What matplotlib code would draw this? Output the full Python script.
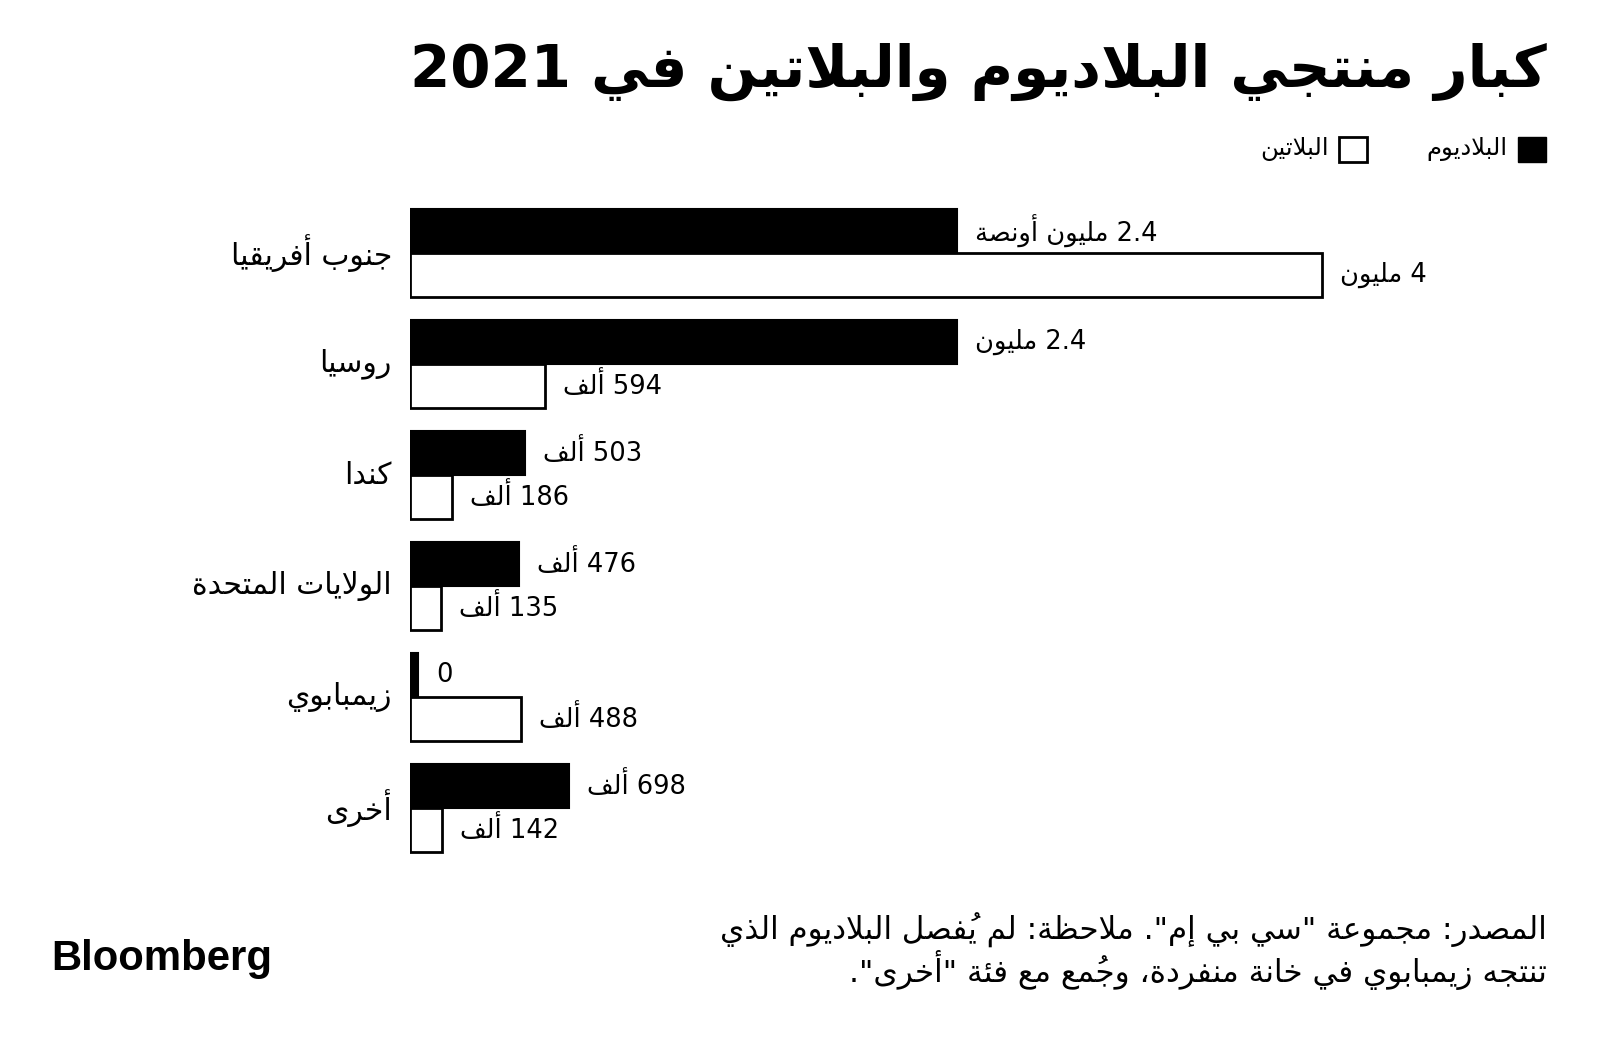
import numpy as np
import matplotlib.pyplot as plt
from matplotlib.patches import Rectangle

# data (thousand ounces, 2021)
countries = ["جنوب أفريقيا", "روسيا", "كندا", "الولايات المتحدة", "زيمبابوي", "أخرى"]
palladium = [2400, 2400, 503, 476, 0, 698]
platinum = [4000, 594, 186, 135, 488, 142]
palladium_labels = ["2.4 مليون أونصة", "2.4 مليون", "503 ألف", "476 ألف", "0", "698 ألف"]
platinum_labels = ["4 مليون", "594 ألف", "186 ألف", "135 ألف", "488 ألف", "142 ألف"]
series_names = ["البلاديوم", "البلاتين"]

title = "كبار منتجي البلاديوم والبلاتين في 2021"
note_lines = ['المصدر: مجموعة "سي بي إم". ملاحظة: لم يُفصل البلاديوم الذي',
              'تنتجه زيمبابوي في خانة منفردة، وجُمع مع فئة "أخرى".']

# --- minimal Arabic shaping + right-to-left ordering (matplotlib does neither) ---
DUAL = {0x0626: 0xFE89, 0x0628: 0xFE8F, 0x062A: 0xFE95, 0x062B: 0xFE99, 0x062C: 0xFE9D,
        0x062D: 0xFEA1, 0x062E: 0xFEA5, 0x0633: 0xFEB1, 0x0634: 0xFEB5, 0x0635: 0xFEB9,
        0x0636: 0xFEBD, 0x0637: 0xFEC1, 0x0638: 0xFEC5, 0x0639: 0xFEC9, 0x063A: 0xFECD,
        0x0641: 0xFED1, 0x0642: 0xFED5, 0x0643: 0xFED9, 0x0644: 0xFEDD, 0x0645: 0xFEE1,
        0x0646: 0xFEE5, 0x0647: 0xFEE9, 0x064A: 0xFEF1}
RIGHT = {0x0622: 0xFE81, 0x0623: 0xFE83, 0x0624: 0xFE85, 0x0625: 0xFE87, 0x0627: 0xFE8D,
         0x0629: 0xFE93, 0x062F: 0xFEA9, 0x0630: 0xFEAB, 0x0631: 0xFEAD, 0x0632: 0xFEAF,
         0x0648: 0xFEED, 0x0649: 0xFEEF}
LAMALEF = {0x0622: 0xFEF5, 0x0623: 0xFEF7, 0x0625: 0xFEF9, 0x0627: 0xFEFB}


def is_mark(ch):
    return 0x064B <= ord(ch) <= 0x0652


def shape_word(word):
    clusters = []
    for ch in word:
        if is_mark(ch) and clusters:
            clusters[-1][1] += ch
        else:
            clusters.append([ord(ch), ""])
    merged = []
    i = 0
    while i < len(clusters):
        b, m = clusters[i]
        if b == 0x0644 and i + 1 < len(clusters) and clusters[i + 1][0] in LAMALEF:
            merged.append([("LA", LAMALEF[clusters[i + 1][0]]), m + clusters[i + 1][1]])
            i += 2
        else:
            merged.append([b, m])
            i += 1

    def jtype(b):
        if isinstance(b, tuple) or b in RIGHT:
            return "R"
        if b in DUAL:
            return "D"
        return "U"

    types = [jtype(c[0]) for c in merged]
    out = []
    for i, (b, m) in enumerate(merged):
        t = types[i]
        prev = i > 0 and types[i - 1] == "D" and t in "DR"
        nxt = t == "D" and i + 1 < len(merged) and types[i + 1] in "DR"
        if isinstance(b, tuple):
            g = chr(b[1] + (1 if prev else 0))
        elif t == "D":
            g = chr(DUAL[b] + (3 if prev and nxt else 1 if prev else 2 if nxt else 0))
        elif t == "R":
            g = chr(RIGHT[b] + (1 if prev else 0))
        else:
            g = chr(b)
        out.append(m + g)  # mark first: it is drawn rightwards over its letter
    return "".join(reversed(out))


def ar(text):
    words = text.split(" ")
    vis = [shape_word(w) if any(0x0600 <= ord(c) <= 0x06FF for c in w) else w for w in words]
    return " ".join(reversed(vis))


# --- figure ---
W, H = 1600, 1037
fig = plt.figure(figsize=(W / 100, H / 100), dpi=100)
plt.rcParams['font.family'] = ['DejaVu Sans']

ax = fig.add_axes([410 / W, 1 - 863.5 / H, 1140 / W, 666 / H])
y = np.arange(len(countries))
h = 0.395
pall_shown = np.maximum(palladium, 35)  # keep a visible stub for zero
ax.barh(y - h / 2, pall_shown, height=h, color="black", edgecolor="black", linewidth=1.5)
ax.barh(y + h / 2, platinum, height=h, color="white", edgecolor="black", linewidth=2)

for i in range(len(countries)):
    ax.annotate(ar(palladium_labels[i]), xy=(pall_shown[i], y[i] - h / 2), xytext=(13, 0),
                textcoords="offset points", ha="left", va="center", fontsize=18.5)
    ax.annotate(ar(platinum_labels[i]), xy=(platinum[i], y[i] + h / 2), xytext=(13, 0),
                textcoords="offset points", ha="left", va="center", fontsize=18.5)

ax.set_xlim(0, 5000)
ax.set_ylim(len(countries) - 0.5, -0.5)
ax.set_yticks(y)
ax.set_yticklabels([ar(c) for c in countries], fontsize=21.5, va="center")
ax.tick_params(axis="y", length=0, pad=13)
ax.set_xticks([])
for s in ax.spines.values():
    s.set_visible(False)

# title
fig.text(1547 / W, 1 - 72 / H, ar(title), ha="right", va="center", fontsize=41.7, weight="bold")

# legend
fig.patches.append(Rectangle((1518 / W, 1 - 162 / H), 28 / W, 25 / H, transform=fig.transFigure,
                             facecolor="black", edgecolor="black"))
fig.text(1508 / W, 1 - 149 / H, ar(series_names[0]), ha="right", va="center", fontsize=17.5)
fig.patches.append(Rectangle((1339 / W, 1 - 162 / H), 28 / W, 25 / H, transform=fig.transFigure,
                             facecolor="white", edgecolor="black", linewidth=2))
fig.text(1329 / W, 1 - 149 / H, ar(series_names[1]), ha="right", va="center", fontsize=17.5)

# note and logo
fig.text(1547 / W, 1 - 930 / H, ar(note_lines[0]), ha="right", va="center", fontsize=22.3)
fig.text(1547 / W, 1 - 970 / H, ar(note_lines[1]), ha="right", va="center", fontsize=22.3)
fig.text(51 / W, 1 - 959 / H, "Bloomberg", ha="left", va="center", fontsize=30.2,
         weight="bold", family="Liberation Sans")

fig.savefig("out.png", dpi=100)
